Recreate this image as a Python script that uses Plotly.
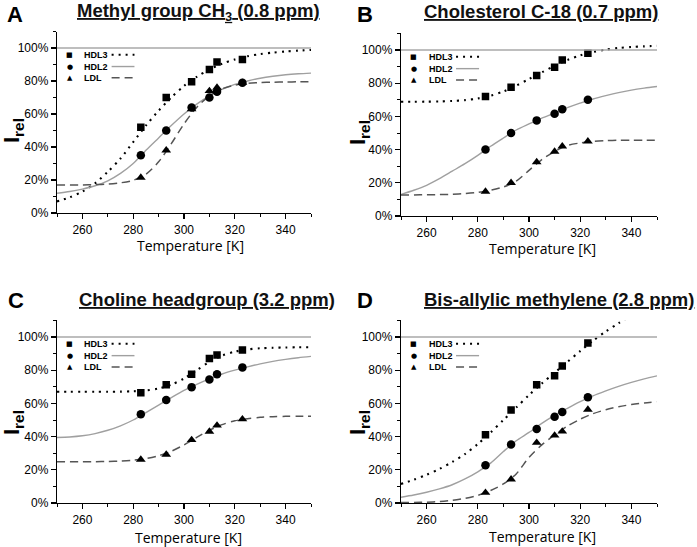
import plotly.graph_objects as go

# ---------------- data ----------------
meas_T = [283, 293, 303, 310, 313, 323]
curve_T = [250, 255, 260, 265, 270, 275, 280, 285, 290, 295, 300,
           305, 310, 315, 320, 325, 330, 335, 340, 345, 350]

# Panel A: Methyl group CH3
A_hdl3 = [52, 70, 79.5, 87, 91.5, 93]
A_hdl2 = [35, 50, 64, 70, 73.5, 79]
A_ldl = [21.5, 38, 63, 74, 76, 79]
A_hdl3_fit = [7, 9.5, 13, 18, 25, 33, 43, 53, 62, 70, 77, 82.5, 87, 90.5, 93, 95, 96.3, 97.2, 97.9, 98.4, 98.8]
A_hdl2_fit = [12, 13, 14.5, 16.5, 19.5, 24, 30, 38, 45.5, 53, 60, 66, 71, 75, 78, 80, 81.7, 82.9, 83.8, 84.4, 84.8]
A_ldl_fit = [17, 17, 17, 17.2, 17.5, 18.3, 19.8, 23.5, 31, 42, 54, 64, 71, 75.3, 77.5, 78.6, 79.1, 79.3, 79.4, 79.5, 79.5]

# Panel B: Cholesterol C-18
B_hdl3 = [72, 77.5, 84.7, 89.6, 94, 98]
B_hdl2 = [40, 50, 57.6, 61.6, 64.3, 70]
B_ldl = [14.7, 20, 32.5, 38.8, 42, 45]
B_hdl3_fit = [68.8, 68.8, 68.9, 69, 69.3, 69.8, 70.8, 72.5, 75, 78.5, 82.5, 86.5, 90.5, 94, 96.8, 98.8, 100.2, 101.2, 101.8, 102.2, 102.5]
B_hdl2_fit = [13, 15.5, 18.5, 22.5, 27, 31.5, 36.5, 42, 47, 51.8, 55.5, 59, 62, 65.3, 68, 70.5, 72.5, 74.3, 75.8, 77, 78]
B_ldl_fit = [12.7, 12.7, 12.8, 12.9, 13.1, 13.5, 14.2, 15.5, 17.5, 21, 27.5, 34, 38.8, 42.5, 44, 45, 45.4, 45.6, 45.7, 45.7, 45.7]

# Panel C: Choline headgroup
C_hdl3 = [66.4, 71.2, 77.5, 87.1, 89.1, 92.2]
C_hdl2 = [53.5, 62, 69.8, 74.4, 77.5, 81.7]
C_ldl = [26.2, 29.2, 38, 43, 46.7, 50.5]
C_hdl3_fit = [67, 67, 67, 67, 67, 67.1, 67.3, 67.8, 69, 71.3, 75, 80, 85, 88.8, 91.2, 92.5, 93.2, 93.5, 93.7, 93.8, 93.8]
C_hdl2_fit = [39.5, 39.8, 40.5, 41.8, 43.8, 46.5, 50, 54.5, 59, 63.5, 67.8, 71.5, 74.8, 77.7, 80, 82, 83.8, 85.3, 86.5, 87.5, 88.3]
C_ldl_fit = [24.8, 24.8, 24.8, 24.9, 25, 25.3, 25.8, 26.8, 28.5, 31.2, 35, 39.5, 43.8, 47.2, 49.5, 50.8, 51.6, 52, 52.2, 52.3, 52.3]

# Panel D: Bis-allylic methylene
D_hdl3 = [41.1, 56, 71.2, 76.6, 82.5, 96.4]
D_hdl2 = [22.8, 35.3, 44.6, 52, 54.8, 63.7]
D_ldl = [6.25, 14.3, 36.3, 40.7, 43.1, 56.3]
D_hdl3_fit = [11.5, 14, 17, 20.5, 24.7, 29.5, 35.5, 42.5, 50, 57.5, 65, 72, 78.5, 85, 91.5, 97.8, 103.3, 108.3, 113]
D_hdl2_fit = [3.5, 4.8, 6.5, 8.5, 11, 14.5, 18.8, 24, 31, 37.5, 42.5, 48, 52.8, 57, 61, 64.5, 67.5, 70.3, 72.7, 74.8, 76.6]
D_ldl_fit = [0.3, 0.3, 0.5, 0.9, 1.6, 2.8, 4.6, 7.5, 11.5, 17.5, 27.5, 35, 41, 46.3, 50.5, 53.8, 56.2, 58, 59.3, 60.3, 61]

titles = ["Methyl group CH<sub>3</sub> (0.8 ppm)", "Cholesterol C-18 (0.7 ppm)",
          "Choline headgroup (3.2 ppm)", "Bis-allylic methylene (2.8 ppm)"]
letters = ["A", "B", "C", "D"]
series_names = ["HDL3", "HDL2", "LDL"]
x_ticks = [260, 280, 300, 320, 340]
y_ticks = [0, 20, 40, 60, 80, 100]
y_ticktext = ["0%", "20%", "40%", "60%", "80%", "100%"]

panels = [
    (A_hdl3, A_hdl2, A_ldl, A_hdl3_fit, A_hdl2_fit, A_ldl_fit),
    (B_hdl3, B_hdl2, B_ldl, B_hdl3_fit, B_hdl2_fit, B_ldl_fit),
    (C_hdl3, C_hdl2, C_ldl, C_hdl3_fit, C_hdl2_fit, C_ldl_fit),
    (D_hdl3, D_hdl2, D_ldl, D_hdl3_fit, D_hdl2_fit, D_ldl_fit),
]

# ---------------- layout geometry (pixels) ----------------
W, H = 697, 547
def px(x):
    return x / W
def py(y):
    return 1 - y / H

# (left, right, top, bottom) pixel positions of each plot area
boxes = [(57, 311, 31.5, 213), (401, 657, 33.4, 216),
         (57, 311, 320.4, 503), (401, 657, 320.4, 503)]
title_pos = [(198, 12), (541, 12), (207, 299), (559, 299.5)]
letter_pos = [(15, 14), (365, 14), (16, 300), (365, 300)]
ylab_pos = [(13, 131), (359, 132), (13, 423), (359, 422)]
xlab_pos = [(190, 246), (542, 248), (188, 537), (542, 536)]

line_styles = [
    dict(color="black", width=2.1, dash="2px,5px"),
    dict(color="#a0a0a0", width=1.4),
    dict(color="#555555", width=1.5, dash="8px,5px"),
]
marker_symbols = ["square", "circle", "triangle-up"]
marker_sizes = [7.5, 8.5, 8.5]
legend_glyphs = ["■", "●", "▲"]

fig = go.Figure()
annotations = []
shapes = []
font_main = "Liberation Sans, Arial, sans-serif"

for i, pdata in enumerate(panels):
    n = "" if i == 0 else str(i + 1)
    xa, ya = "x" + n, "y" + n
    meas = pdata[:3]
    fits = pdata[3:]
    for s in range(3):
        fit = fits[s]
        fig.add_trace(go.Scatter(
            x=curve_T[:len(fit)], y=fit, mode="lines",
            line=dict(shape="spline", smoothing=0.8, **line_styles[s]),
            xaxis=xa, yaxis=ya, showlegend=False, hoverinfo="skip"))
    for s in range(3):
        fig.add_trace(go.Scatter(
            x=meas_T, y=meas[s], mode="markers",
            marker=dict(symbol=marker_symbols[s], size=marker_sizes[s], color="black"),
            xaxis=xa, yaxis=ya, showlegend=False, name=series_names[s]))

    l, r, t, b = boxes[i]
    axis_common = dict(showgrid=False, zeroline=False, showline=True, automargin=False,
                       linecolor="black", linewidth=1.2, ticks="outside",
                       ticklen=5, tickwidth=1.2, tickcolor="black",
                       tickfont=dict(family=font_main, size=12, color="black"))
    fig.layout["xaxis" + n] = dict(
        domain=[px(l), px(r)], anchor=ya, range=[250, 350],
        tickvals=x_ticks,
        minor=dict(tickvals=[250, 270, 290, 310, 330, 350], ticks="outside", ticklen=3,
                   tickcolor="black", tickwidth=1),
        **axis_common)
    fig.layout["yaxis" + n] = dict(
        domain=[py(b), py(t)], anchor=xa, range=[0, 110],
        tickvals=y_ticks, ticktext=y_ticktext,
        minor=dict(tickvals=[10, 30, 50, 70, 90, 110], ticks="outside", ticklen=3,
                   tickcolor="black", tickwidth=1),
        **axis_common)

    # 100% reference line
    shapes.append(dict(type="line", xref=xa + " domain", yref=ya,
                       x0=0, x1=1, y0=100, y1=100,
                       line=dict(color="#a8a8a8", width=1.5)))

    # legend (symbol, label, line sample)
    rows = [0.872, 0.807, 0.745]
    for s in range(3):
        annotations.append(dict(xref=xa + " domain", yref=ya + " domain",
                                x=0.05, y=rows[s], text=legend_glyphs[s], showarrow=False,
                                font=dict(family="DejaVu Sans", size=7, color="black"),
                                xanchor="center", yanchor="middle"))
        annotations.append(dict(xref=xa + " domain", yref=ya + " domain",
                                x=0.1, y=rows[s], text="<b>" + series_names[s] + "</b>",
                                showarrow=False,
                                font=dict(family=font_main, size=9, color="black"),
                                xanchor="left", yanchor="middle"))
        ls = dict(line_styles[s])
        shapes.append(dict(type="line", xref=xa + " domain", yref=ya + " domain",
                           x0=0.215, x1=0.305, y0=rows[s], y1=rows[s], line=ls))

    # panel title
    tx, ty = title_pos[i]
    annotations.append(dict(xref="paper", yref="paper", x=px(tx), y=py(ty),
                            text="<b><u>" + titles[i] + "</u></b>", showarrow=False,
                            font=dict(family=font_main, size=18.5, color="#111111"),
                            xanchor="center", yanchor="middle"))
    lx, ly = letter_pos[i]
    annotations.append(dict(xref="paper", yref="paper", x=px(lx), y=py(ly),
                            text="<b>" + letters[i] + "</b>", showarrow=False,
                            font=dict(family=font_main, size=22, color="black"),
                            xanchor="center", yanchor="middle"))
    yx, yy = ylab_pos[i]
    annotations.append(dict(xref="paper", yref="paper", x=px(yx), y=py(yy),
                            text="<b>I<sub>rel</sub></b>", showarrow=False, textangle=-90,
                            font=dict(family=font_main, size=22, color="black"),
                            xanchor="center", yanchor="middle"))
    xx, xy = xlab_pos[i]
    annotations.append(dict(xref="paper", yref="paper", x=px(xx), y=py(xy),
                            text="Temperature [K]", showarrow=False,
                            font=dict(family="Open Sans", size=14, color="black"),
                            xanchor="center", yanchor="middle"))

fig.update_layout(width=W, height=H, autosize=False,
                  margin=dict(l=0, r=0, t=0, b=0, autoexpand=False),
                  paper_bgcolor="white", plot_bgcolor="white",
                  showlegend=False, annotations=annotations, shapes=shapes)

fig.write_html("out.html", config={"displayModeBar": False, "staticPlot": True},
               post_script="document.body.style.margin='0px';document.body.style.overflow='hidden';")
